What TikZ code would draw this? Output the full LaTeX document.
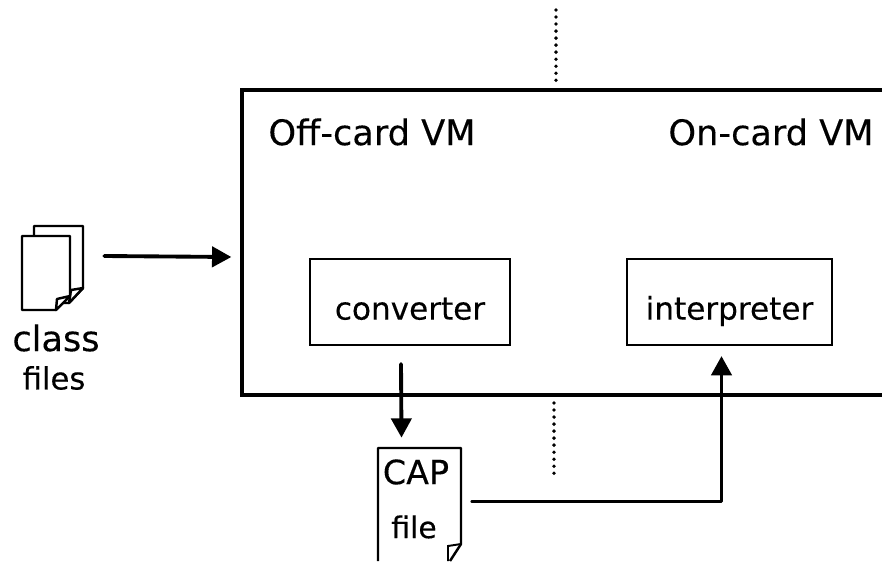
\documentclass[tikz,border=0pt]{standalone}
\usepackage{fontspec}
\setmainfont[FakeBold=0.25]{DejaVu Sans}
\usetikzlibrary{arrows.meta, calc}

\tikzset{
	block/.style={draw, line width=1.2pt, inner sep=0pt, text height=20pt, text depth=0pt, font=\fontsize{17.7}{20}\selectfont},
	flow/.style={line width=2.2pt, line cap=round, line join=round, -{Triangle[length=11pt, width=11.5pt]}},
	paper/.style={line width=1.4pt, fill=white, line join=round},
	divider/.style={line width=2.2pt, dash pattern=on 0pt off 4pt, line cap=round},
	label/.style={inner sep=0pt, font=\fontsize{20}{24}\selectfont},
	smalllabel/.style={inner sep=0pt, font=\fontsize{17.5}{20}\selectfont}
}

\begin{document}
\begin{tikzpicture}[x=0.02cm, y=-0.02cm]
	\useasboundingbox (0,0) rectangle (882,561);

	\coordinate (top1) at (556,10);
	\coordinate (top2) at (556,86);
	\coordinate (low1) at (554,403);
	\coordinate (low2) at (554,474);
	\draw [divider] (top1) -- (top2);
	\draw [divider] (low1) -- (low2);

	% card box, open at the right
	\coordinate (vmtl) at (242,90);
	\coordinate (vmbl) at (242,395);
	\draw [line width=2.4pt, line join=miter] (882,90) -- (vmtl) -- (vmbl) -- (882,395);
	\node [label] (offcard) at (372,132) {Off-card VM};
	\node [label] (oncard) at (771,132) {On-card VM};

	\node [block, minimum width=200*0.5692pt, minimum height=86*0.5692pt] (converter) at (410,302) {converter};
	\node [block, minimum width=205*0.5692pt, minimum height=86*0.5692pt] (interpreter) at (729.5,302) {interpreter};

	% class files
	\draw [paper] (34,226) -- (83,226) -- (83,288) -- (69,303) -- (34,303) -- cycle;
	\draw [paper] (71,290) -- (83,288) -- (69,303) -- cycle;
	\draw [paper] (22,236) -- (70,236) -- (70,296) -- (56,310) -- (22,310) -- cycle;
	\draw [paper] (57,299) -- (70,296) -- (56,310) -- cycle;
	\node [label] (classtxt) at (56,338) {class};
	\node [smalllabel] (filestxt) at (54,378) {files};
	\node [inner sep=0pt, minimum width=61*0.5692pt, minimum height=84*0.5692pt] (classfiles) at (52.5,268) {};

	% CAP file, cut by the page
	\draw [paper] (378,561) -- (378,448) -- (461,448) -- (461,544) -- (450,561);
	\draw [line width=1.1pt] (448,561) -- (448,546) -- (461,544);
	\node [inner sep=0pt, minimum width=83*0.5692pt, minimum height=113*0.5692pt] (capfile) at (419.5,504.5) {};
	\node [inner sep=0pt, font=\fontsize{19}{22}\selectfont] (captxt) at (416,472) {CAP};
	\node [inner sep=0pt, font=\fontsize{17}{20}\selectfont] (filetxt) at (414,527) {file};

	\draw [flow] ($(classfiles.east)+(21,-12)$) -- ($(classfiles.east)+(148,-11)$);
	\draw [flow] ($(converter.south)+(-9,18)$) -- ($(capfile.north)+(-18,-10)$);
	\draw [flow] ($(capfile.east)+(11,-3)$) -| ($(interpreter.south)+(-8,10)$);
\end{tikzpicture}
\end{document}
